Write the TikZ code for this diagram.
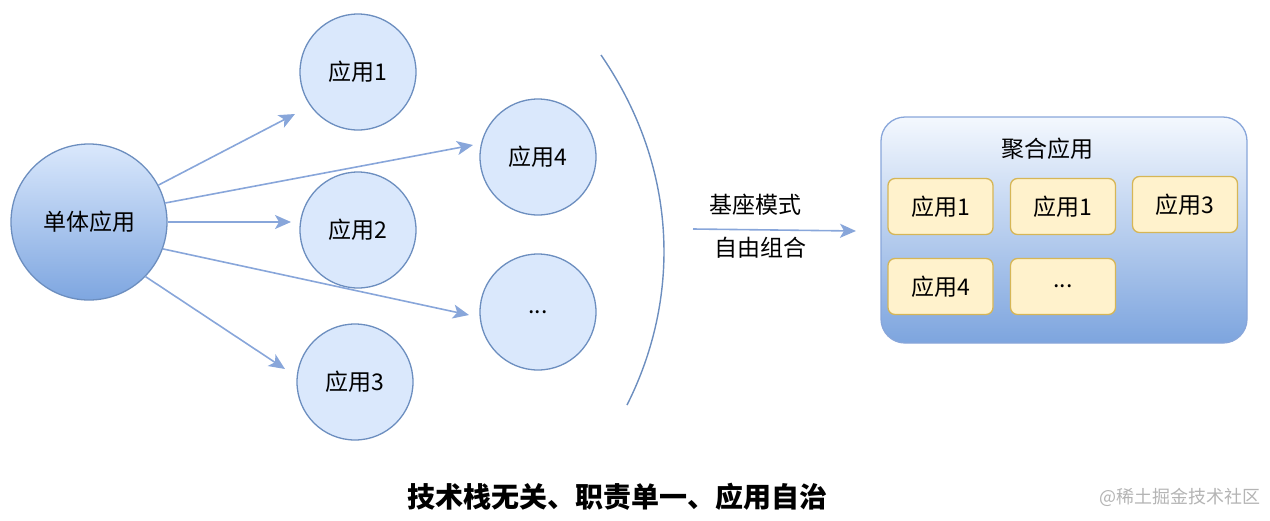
\documentclass[tikz,border=0pt]{standalone}
\usepackage{fontspec}
\setmainfont{Noto Sans CJK SC}
\usetikzlibrary{arrows.meta}
\definecolor{cfill}{HTML}{DAE8FC}
\definecolor{cdark}{HTML}{7EA6E0}
\definecolor{cline}{HTML}{6C8EBF}
\definecolor{carrow}{HTML}{88A6DA}
\definecolor{yfill}{HTML}{FFF2CC}
\definecolor{yline}{HTML}{D6B656}
\definecolor{wm}{HTML}{B4B4B4}
\tikzset{
  txt/.style={font=\fontsize{23}{26}\selectfont},
  appcircle/.style={circle, draw=cline, line width=1.3pt, fill=cfill, minimum size=116pt, inner sep=0pt, txt},
  bigcircle/.style={circle, draw=cline, line width=1.3pt, top color=cfill, bottom color=cdark, minimum size=156pt, inner sep=0pt, txt},
  arr/.style={draw=carrow, line width=1.6pt, -{Stealth[length=16pt,width=14pt,inset=4pt]}},
  arcline/.style={draw=cline, line width=1.4pt},
  aggbox/.style={draw=carrow, line width=1.3pt, rounded corners=24pt, top color=white!70!cfill, bottom color=cdark!95!cline},
  ybox/.style={draw=yline, line width=1.3pt, fill=yfill, rounded corners=7pt, minimum width=105pt, minimum height=56pt, inner sep=0pt, txt},
  lbl/.style={txt, inner sep=0pt},
}
\begin{document}
\begin{tikzpicture}[x=1pt,y=-1pt]
\useasboundingbox (0,0) rectangle (1270,520);
% left part
\node[bigcircle] (s) at (89,222) {单体应用};
\node[appcircle] (a1) at (358,72) {应用1};
\node[appcircle] (a4) at (538,157) {应用4};
\node[appcircle] (a2) at (358,230) {应用2};
\node[appcircle] (ad) at (538,312) {...};
\node[appcircle] (a3) at (355,382) {应用3};
\coordinate (e1) at (295,114);
\coordinate (e4) at (473,145);
\coordinate (e2) at (291,222);
\coordinate (ed) at (469,315);
\coordinate (e3) at (285,369);
\draw[arr] (s.28) -- (e1);
\draw[arr] (s.14) -- (e4);
\draw[arr] (s.0) -- (e2);
\draw[arr] (s.-20) -- (ed);
\draw[arr] (s.-44) -- (e3);
% arc
\draw[arcline] (601,55) .. controls (680,170) and (680,300) .. (627,405);
% middle arrow
\coordinate (m1) at (693,229);
\coordinate (m2) at (856,231);
\draw[arr] (m1) -- (m2);
\node[lbl] (t1) at (755,205) {基座模式};
\node[lbl] (t2) at (760,248) {自由组合};
% aggregate box
\draw[aggbox] (881,117) rectangle (1247,343);
\node[lbl] (aggt) at (1047,149) {聚合应用};
\node[ybox] (b1) at (940.5,206.5) {应用1};
\node[ybox] (b2) at (1063,206.5) {应用1};
\node[ybox] (b3) at (1185,204.5) {应用3};
\node[ybox] (b4) at (940.5,286.5) {应用4};
\node[ybox] (b5) at (1063,286.5) {...};
% bottom
\node[font=\fontsize{28}{31}\selectfont\bfseries, inner sep=0pt] (cap) at (617,497) {技术栈无关、职责单一、应用自治};
\node[font=\fontsize{18}{21}\selectfont, text=wm, inner sep=0pt] (wmk) at (1180,497) {@稀土掘金技术社区};
\end{tikzpicture}
\end{document}
